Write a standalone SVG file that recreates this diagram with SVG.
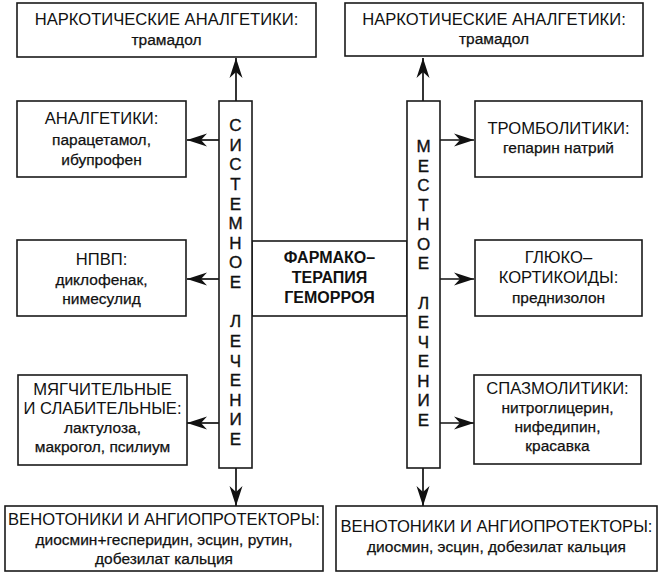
<svg xmlns="http://www.w3.org/2000/svg" width="664" height="580" viewBox="0 0 664 580">
<defs>
<style>
.box{fill:#fff;stroke:#1a1a1a;stroke-width:1.6}
.t{font-family:"Liberation Sans",Arial,sans-serif;font-size:16.6px;fill:#111;text-anchor:middle}
.s{font-family:"Liberation Sans",Arial,sans-serif;font-size:15.5px;fill:#111;stroke:#111;stroke-width:0.25;text-anchor:middle}
.b{font-family:"Liberation Sans",Arial,sans-serif;font-size:16px;font-weight:bold;fill:#111;text-anchor:middle}
.v{font-family:"Liberation Sans",Arial,sans-serif;font-size:17px;fill:#111;stroke:#111;stroke-width:0.35;text-anchor:middle}
.c{stroke:#111;stroke-width:1.7;fill:none;marker-end:url(#ah)}
</style>
<marker id="ah" viewBox="0 0 20 14" refX="20" refY="7" markerWidth="20" markerHeight="14" markerUnits="userSpaceOnUse" orient="auto">
<path d="M0,0.5 L20,7 L0,13.5 L6,7 Z" fill="#111"/>
</marker>
</defs>
<rect width="664" height="580" fill="#fff"/>

<g id="connectors">
<line class="c" x1="236" y1="101" x2="236" y2="58"/>
<line class="c" x1="423" y1="101" x2="423" y2="58"/>
<line class="c" x1="219" y1="140" x2="187" y2="140"/>
<line class="c" x1="219" y1="279" x2="187" y2="279"/>
<line class="c" x1="219" y1="423" x2="187" y2="423"/>
<line class="c" x1="440" y1="140" x2="474" y2="140"/>
<line class="c" x1="440" y1="279" x2="474" y2="279"/>
<line class="c" x1="440" y1="423" x2="474" y2="423"/>
<line class="c" x1="236" y1="468" x2="236" y2="506"/>
<line class="c" x1="423" y1="468" x2="423" y2="506"/>
</g>

<g id="center">
<rect class="box" x="252" y="241" width="155" height="75"/>
<text class="b" x="329.5" y="263">ФАРМАКО–</text>
<text class="b" x="329.5" y="283">ТЕРАПИЯ</text>
<text class="b" x="329.5" y="303">ГЕМОРРОЯ</text>
</g>

<g id="systemic">
<rect class="box" x="219" y="101" width="33" height="367"/>
<text class="v" x="235.5" y="131">С</text>
<text class="v" x="235.5" y="151">И</text>
<text class="v" x="235.5" y="170">С</text>
<text class="v" x="235.5" y="190">Т</text>
<text class="v" x="235.5" y="210">Е</text>
<text class="v" x="235.5" y="229">М</text>
<text class="v" x="235.5" y="249">Н</text>
<text class="v" x="235.5" y="268">О</text>
<text class="v" x="235.5" y="288">Е</text>
<text class="v" x="235.5" y="327">Л</text>
<text class="v" x="235.5" y="347">Е</text>
<text class="v" x="235.5" y="367">Ч</text>
<text class="v" x="235.5" y="386">Е</text>
<text class="v" x="235.5" y="406">Н</text>
<text class="v" x="235.5" y="425">И</text>
<text class="v" x="235.5" y="445">Е</text>
</g>

<g id="local">
<rect class="box" x="407" y="101" width="33" height="367"/>
<text class="v" x="423.5" y="152">М</text>
<text class="v" x="423.5" y="172">Е</text>
<text class="v" x="423.5" y="191">С</text>
<text class="v" x="423.5" y="211">Т</text>
<text class="v" x="423.5" y="230">Н</text>
<text class="v" x="423.5" y="250">О</text>
<text class="v" x="423.5" y="269">Е</text>
<text class="v" x="423.5" y="309">Л</text>
<text class="v" x="423.5" y="328">Е</text>
<text class="v" x="423.5" y="348">Ч</text>
<text class="v" x="423.5" y="367">Е</text>
<text class="v" x="423.5" y="387">Н</text>
<text class="v" x="423.5" y="406">И</text>
<text class="v" x="423.5" y="426">Е</text>
</g>

<g id="narc-left">
<rect class="box" x="17" y="3" width="299" height="54"/>
<text class="t" x="166.5" y="25">НАРКОТИЧЕСКИЕ АНАЛГЕТИКИ:</text>
<text class="s" x="166.5" y="45">трамадол</text>
</g>

<g id="narc-right">
<rect class="box" x="345" y="3" width="298" height="53"/>
<text class="t" x="494" y="25">НАРКОТИЧЕСКИЕ АНАЛГЕТИКИ:</text>
<text class="s" x="494" y="44">трамадол</text>
</g>

<g id="analg">
<rect class="box" x="17" y="101" width="169" height="76"/>
<text class="t" x="101.5" y="124">АНАЛГЕТИКИ:</text>
<text class="s" x="101.5" y="145">парацетамол,</text>
<text class="s" x="101.5" y="165">ибупрофен</text>
</g>

<g id="nsaid">
<rect class="box" x="17" y="240" width="169" height="76"/>
<text class="t" x="101.5" y="265">НПВП:</text>
<text class="s" x="101.5" y="285">диклофенак,</text>
<text class="s" x="101.5" y="304">нимесулид</text>
</g>

<g id="laxative">
<rect class="box" x="18" y="375" width="169" height="90"/>
<text class="t" x="102.5" y="395">МЯГЧИТЕЛЬНЫЕ</text>
<text class="t" x="102.5" y="414">И СЛАБИТЕЛЬНЫЕ:</text>
<text class="s" x="102.5" y="433">лактулоза,</text>
<text class="s" x="102.5" y="452">макрогол, псилиум</text>
</g>

<g id="veno-left">
<rect class="box" x="5" y="506" width="318" height="65"/>
<text class="t" x="164" y="525">ВЕНОТОНИКИ И АНГИОПРОТЕКТОРЫ:</text>
<text class="s" x="164" y="545">диосмин+гесперидин, эсцин, рутин,</text>
<text class="s" x="164" y="564">добезилат кальция</text>
</g>

<g id="thrombo">
<rect class="box" x="475" y="101" width="167" height="76"/>
<text class="t" x="558.5" y="134">ТРОМБОЛИТИКИ:</text>
<text class="s" x="558.5" y="153">гепарин натрий</text>
</g>

<g id="gluco">
<rect class="box" x="475" y="240" width="167" height="76"/>
<text class="t" x="558.5" y="263">ГЛЮКО–</text>
<text class="t" x="558.5" y="283">КОРТИКОИДЫ:</text>
<text class="s" x="558.5" y="303">преднизолон</text>
</g>

<g id="spasmo">
<rect class="box" x="474" y="375" width="167" height="89"/>
<text class="t" x="557.5" y="394">СПАЗМОЛИТИКИ:</text>
<text class="s" x="557.5" y="413">нитроглицерин,</text>
<text class="s" x="557.5" y="432">нифедипин,</text>
<text class="s" x="557.5" y="451">красавка</text>
</g>

<g id="veno-right">
<rect class="box" x="336" y="506" width="321" height="65"/>
<text class="t" x="496.5" y="532">ВЕНОТОНИКИ И АНГИОПРОТЕКТОРЫ:</text>
<text class="s" x="496.5" y="552">диосмин, эсцин, добезилат кальция</text>
</g>
</svg>
